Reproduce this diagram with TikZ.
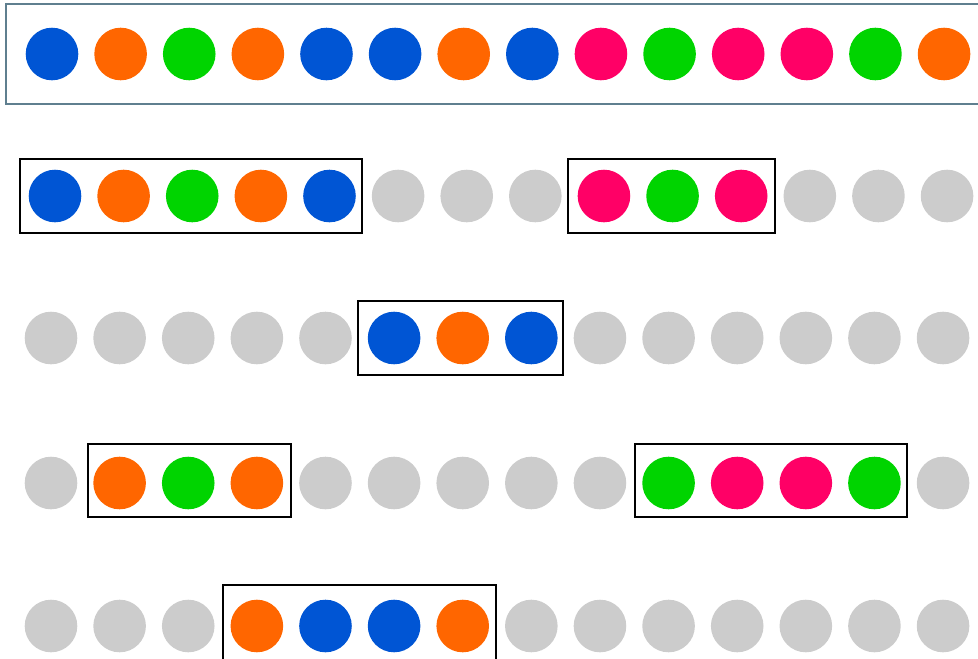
\documentclass[tikz,border=0pt]{standalone}
\begin{document}
\begin{tikzpicture}[x=1pt,y=-1pt,
  dot/.style={circle,inner sep=0pt,minimum size=52.6pt,draw=none},
  grp/.style={draw=black,line width=2.6pt},
  topbox/.style={draw={rgb,255:red,95;green,127;blue,143},line width=2.2pt}]
\definecolor{cB}{HTML}{0055D4}
\definecolor{cO}{HTML}{FF6600}
\definecolor{cG}{HTML}{00D400}
\definecolor{cP}{HTML}{FF0066}
\definecolor{cg}{HTML}{CCCCCC}
\useasboundingbox (0,0) rectangle (978,659);
\clip (0,0) rectangle (978,659);
\draw[topbox] (6,4) rectangle (990,104);
% rows
\def\step{68.62}
\foreach \r/\x/\y/\seq in {1/52/54/{B,O,G,O,B,B,O,B,P,G,P,P,G,O},
  2/55/196/{B,O,G,O,B,g,g,g,P,G,P,g,g,g},
  3/51/338/{g,g,g,g,g,B,O,B,g,g,g,g,g,g},
  4/51/483/{g,O,G,O,g,g,g,g,g,G,P,P,G,g},
  5/51/626/{g,g,g,O,B,B,O,g,g,g,g,g,g,g}}{
  \foreach \c [count=\i from 0] in \seq {
    \node[dot,fill=c\c] (d\r-\i) at ({\x+\i*\step},\y) {};
  }
}
\draw[grp] (20,159) rectangle (362,233);
\draw[grp] (568,159) rectangle (775,233);
\draw[grp] (358,301) rectangle (563,375);
\draw[grp] (88,444) rectangle (291,517);
\draw[grp] (635,444) rectangle (907,517);
\draw[grp] (223,585) rectangle (496,670);
\end{tikzpicture}
\end{document}
